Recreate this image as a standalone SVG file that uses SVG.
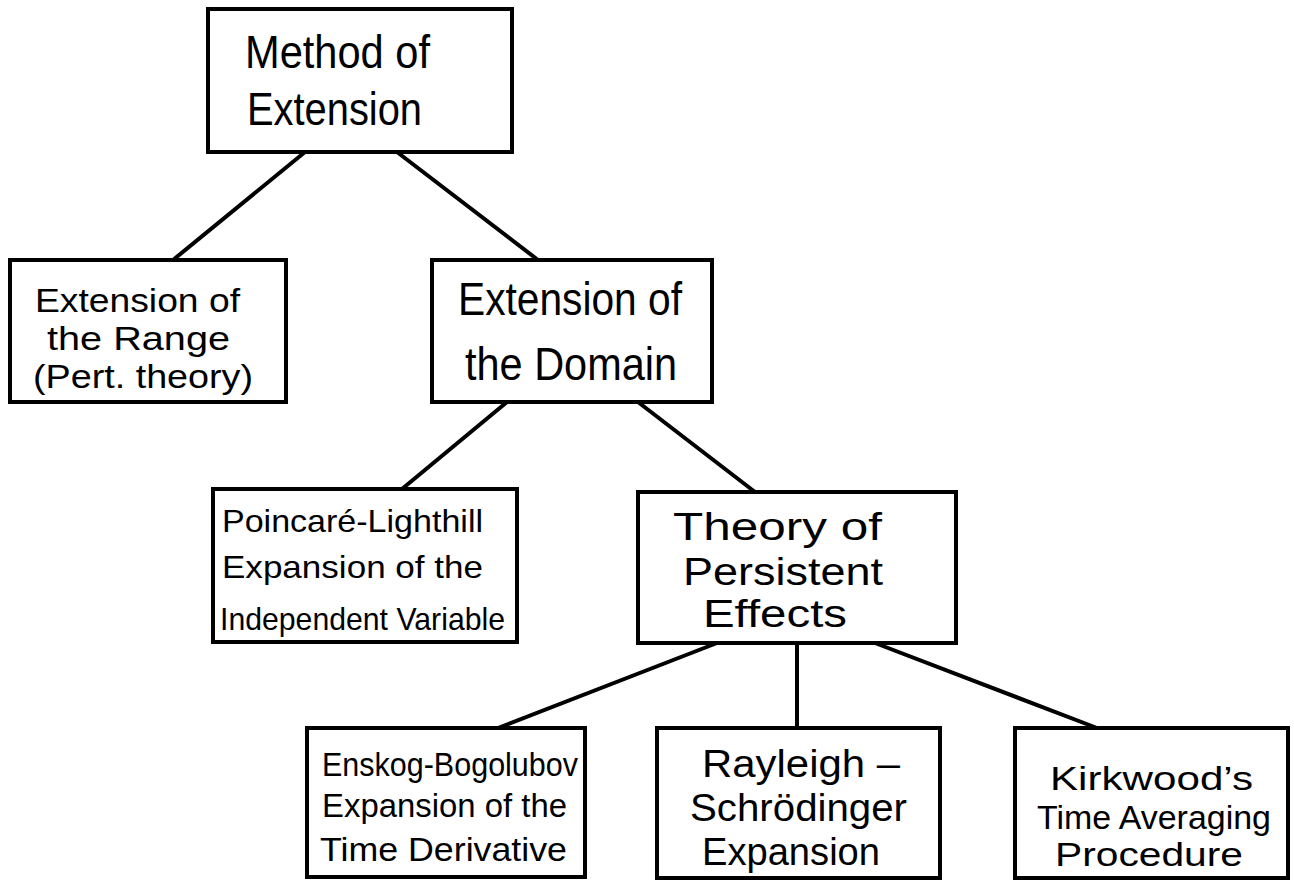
<svg xmlns="http://www.w3.org/2000/svg" width="1294" height="883" viewBox="0 0 1294 883">
<style>
.box{fill:#fff;stroke:#000;stroke-width:4}
.ln{stroke:#000;stroke-width:4;fill:none;stroke-linecap:round}
text{font-family:"Liberation Sans","DejaVu Sans",sans-serif;fill:#000}
.f46{font-size:46px}
.f40{font-size:40px}
.f38{font-size:38px}
.f36{font-size:36px}
.f34{font-size:34px}
.f32{font-size:32px}
</style>
<rect width="1294" height="883" fill="#fff"/>
<g id="connectors">
<line class="ln" x1="305" y1="152" x2="173" y2="260"/>
<line class="ln" x1="397" y1="152" x2="538" y2="260"/>
<line class="ln" x1="507" y1="402" x2="402" y2="489"/>
<line class="ln" x1="638" y1="402" x2="755" y2="492"/>
<line class="ln" x1="717" y1="643" x2="498" y2="728"/>
<line class="ln" x1="797" y1="643" x2="797" y2="728"/>
<line class="ln" x1="875" y1="643" x2="1097" y2="728"/>
</g>
<g id="method">
<rect class="box" x="208" y="9" width="304" height="143"/>
<text class="f46" x="245" y="68" textLength="185" lengthAdjust="spacingAndGlyphs">Method of</text>
<text class="f46" x="247" y="125" textLength="175" lengthAdjust="spacingAndGlyphs">Extension</text>
</g>
<g id="range">
<rect class="box" x="10" y="260" width="276" height="142"/>
<text class="f34" x="35" y="312" textLength="205" lengthAdjust="spacingAndGlyphs">Extension of</text>
<text class="f34" x="47" y="350" textLength="183" lengthAdjust="spacingAndGlyphs">the Range</text>
<text class="f34" x="33" y="388" textLength="220" lengthAdjust="spacingAndGlyphs">(Pert. theory)</text>
</g>
<g id="domain">
<rect class="box" x="432" y="260" width="280" height="142"/>
<text class="f46" x="458" y="315" textLength="224" lengthAdjust="spacingAndGlyphs">Extension of</text>
<text class="f46" x="465" y="380" textLength="212" lengthAdjust="spacingAndGlyphs">the Domain</text>
</g>
<g id="poincare">
<rect class="box" x="213" y="489" width="304" height="153"/>
<text class="f32" x="222" y="532" textLength="261" lengthAdjust="spacingAndGlyphs">Poincaré-Lighthill</text>
<text class="f32" x="222" y="578" textLength="261" lengthAdjust="spacingAndGlyphs">Expansion of the</text>
<text class="f32" x="220" y="630" textLength="285" lengthAdjust="spacingAndGlyphs">Independent Variable</text>
</g>
<g id="theory">
<rect class="box" x="638" y="492" width="318" height="151"/>
<text class="f38" x="673" y="540" textLength="209" lengthAdjust="spacingAndGlyphs">Theory of</text>
<text class="f38" x="683" y="585" textLength="200" lengthAdjust="spacingAndGlyphs">Persistent</text>
<text class="f38" x="703" y="627" textLength="144" lengthAdjust="spacingAndGlyphs">Effects</text>
</g>
<g id="enskog">
<rect class="box" x="307" y="728" width="278" height="149"/>
<text class="f34" x="322" y="776" textLength="256" lengthAdjust="spacingAndGlyphs">Enskog-Bogolubov</text>
<text class="f34" x="322" y="817" textLength="245" lengthAdjust="spacingAndGlyphs">Expansion of the</text>
<text class="f34" x="320" y="861" textLength="247" lengthAdjust="spacingAndGlyphs">Time Derivative</text>
</g>
<g id="rayleigh">
<rect class="box" x="657" y="728" width="283" height="150"/>
<text class="f38" x="702" y="777" textLength="198" lengthAdjust="spacingAndGlyphs">Rayleigh –</text>
<text class="f38" x="690" y="821" textLength="217" lengthAdjust="spacingAndGlyphs">Schrödinger</text>
<text class="f38" x="702" y="865" textLength="178" lengthAdjust="spacingAndGlyphs">Expansion</text>
</g>
<g id="kirkwood">
<rect class="box" x="1015" y="728" width="273" height="150"/>
<text class="f34" x="1050" y="790" textLength="203" lengthAdjust="spacingAndGlyphs">Kirkwood’s</text>
<text class="f34" x="1037" y="829" textLength="234" lengthAdjust="spacingAndGlyphs">Time Averaging</text>
<text class="f34" x="1055" y="866" textLength="188" lengthAdjust="spacingAndGlyphs">Procedure</text>
</g>
</svg>
